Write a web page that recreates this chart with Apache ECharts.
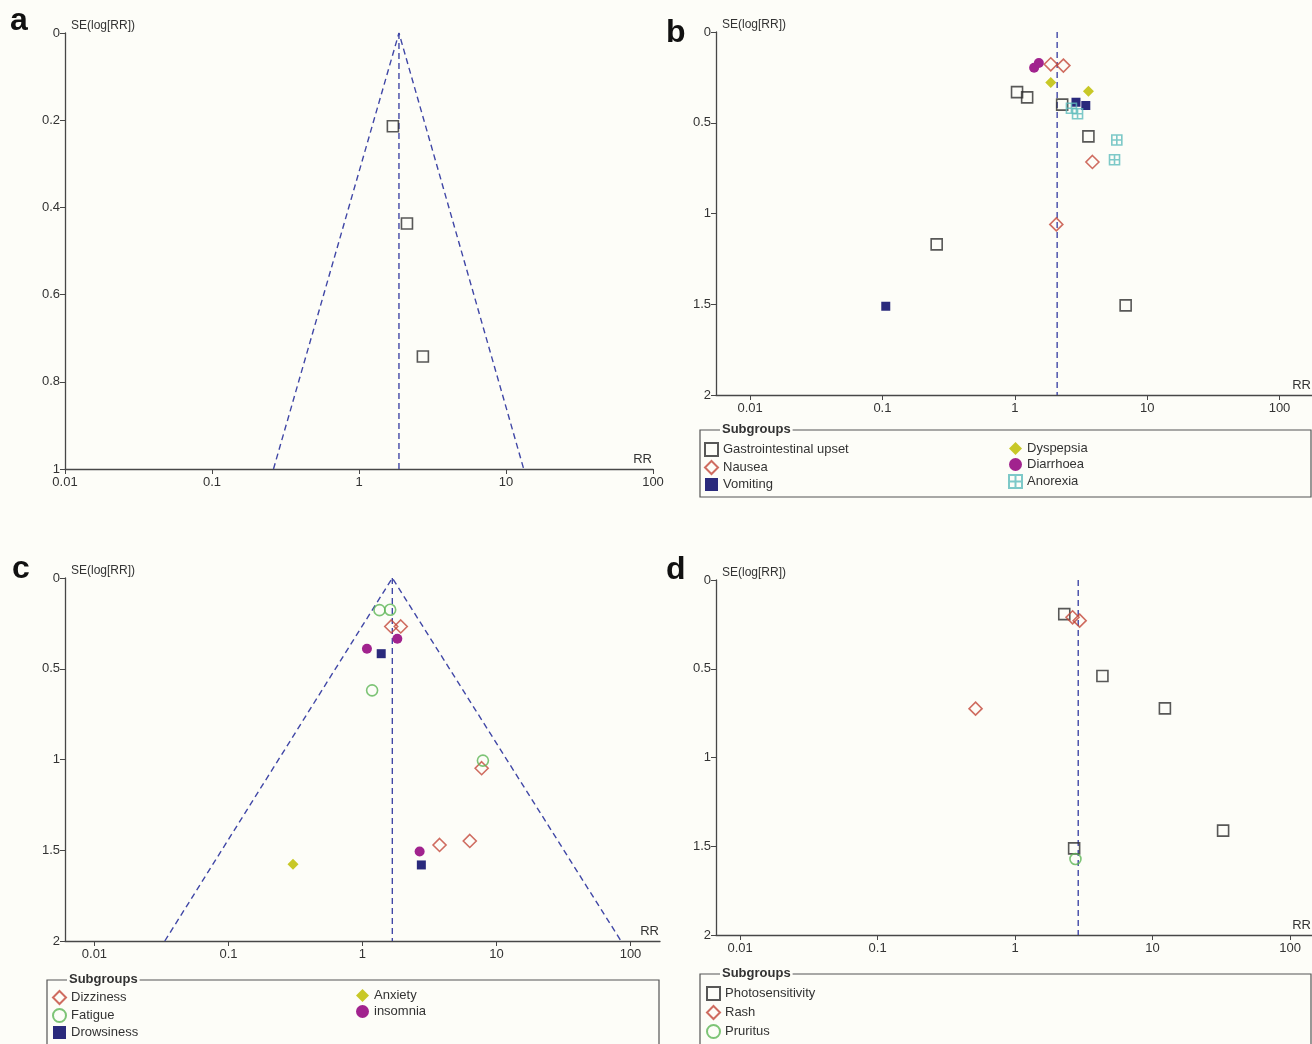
<!DOCTYPE html>
<html>
<head>
<meta charset="utf-8">
<script src="https://cdn.jsdelivr.net/npm/echarts@6/dist/echarts.min.js"></script>
<style>
  html, body { margin: 0; padding: 0; background: #fdfdf8; }
  #main { width: 1312px; height: 1044px; }
</style>
</head>
<body>
<div id="main"></div>
<script>
// panel a - one subgroup, funnel drawn
var aRR = [1.70, 2.12, 2.72];
var aSE = [0.214, 0.437, 0.742];
var aFunnelRR = [0.262, 1.87, 13.2];   // left foot, apex, right foot
var aFunnelSE = [1, 0, 1];
var aPooled = 1.87;

// panel b - gastrointestinal
var bGastroRR = [1.04, 1.24, 2.28, 3.60, 0.257, 6.88];
var bGastroSE = [0.331, 0.360, 0.400, 0.575, 1.170, 1.506];
var bNauseaRR = [1.87, 2.33, 3.86, 2.06];
var bNauseaSE = [0.178, 0.185, 0.716, 1.060];
var bVomitRR = [0.106, 2.90, 3.44];
var bVomitSE = [1.511, 0.387, 0.405];
var bDyspRR = [1.87, 3.60];
var bDyspSE = [0.278, 0.326];
var bDiarRR = [1.40, 1.52];
var bDiarSE = [0.197, 0.171];
var bAnorRR = [2.68, 2.98, 5.90, 5.67];
var bAnorSE = [0.420, 0.450, 0.595, 0.704];
var bPooled = 2.09;

// panel c - nervous system
var cDizzRR = [1.64, 1.93, 7.75, 3.76, 6.32];
var cDizzSE = [0.267, 0.267, 1.048, 1.471, 1.449];
var cFatRR = [1.34, 1.61, 1.18, 7.92];
var cFatSE = [0.177, 0.175, 0.619, 1.006];
var cDrowRR = [1.38, 2.75];
var cDrowSE = [0.417, 1.581];
var cAnxRR = [0.303];
var cAnxSE = [1.577];
var cInsRR = [1.82, 1.08, 2.67];
var cInsSE = [0.335, 0.390, 1.507];
var cFunnelRR = [0.0335, 1.67, 85];
var cFunnelSE = [2, 0, 2];
var cPooled = 1.67;

// panel d - skin
var dPhotoRR = [2.28, 4.32, 12.3, 32.6, 2.69];
var dPhotoSE = [0.192, 0.541, 0.723, 1.412, 1.512];
var dRashRR = [2.62, 2.95, 0.516];
var dRashSE = [0.210, 0.229, 0.725];
var dPrurRR = [2.75];
var dPrurSE = [1.572];
var dPooled = 2.88;

var panelLetters = ['a', 'b', 'c', 'd'];

function pts(rr, se) {
    var out = [];
    for (var i = 0; i < rr.length; i++) out.push([rr[i], se[i]]);
    return out;
}

var FONT = '"Liberation Sans", Arial, sans-serif';
var AXIS_COL = '#474747';
var DASH_COL = '#4047a6';
var BG = '#fdfdf8';

function xAx(idx, min, max, hideEnds) {
    return {
        type: 'log', logBase: 10, gridIndex: idx, min: min, max: max, position: 'bottom',
        name: 'RR', nameLocation: 'end', nameGap: 0,
        nameTextStyle: { color: '#333', fontSize: 13, fontFamily: FONT, align: 'right', verticalAlign: 'bottom', padding: [0, 1, 3, 0] },
        axisLine: { onZero: false, lineStyle: { color: AXIS_COL, width: 1.3 } },
        axisTick: { length: 5, lineStyle: { color: AXIS_COL } },
        axisLabel: {
            color: '#333', fontSize: 13, fontFamily: FONT, margin: 7,
            showMinLabel: !hideEnds, showMaxLabel: !hideEnds,
            formatter: function (v) { return String(+v.toPrecision(3)); }
        },
        splitLine: { show: false }
    };
}

function yAx(idx, max, step) {
    return {
        type: 'value', gridIndex: idx, inverse: true, min: 0, max: max, interval: step,
        name: 'SE(log[RR])', nameLocation: 'start', nameGap: 0,
        nameTextStyle: { color: '#333', fontSize: 12, fontFamily: FONT, align: 'left', verticalAlign: 'bottom', padding: [0, 0, 1, 6] },
        axisLine: { onZero: false, lineStyle: { color: AXIS_COL, width: 1.3 } },
        axisTick: { length: 5, lineStyle: { color: AXIS_COL } },
        axisLabel: { color: '#333', fontSize: 13, fontFamily: FONT, margin: 5 },
        splitLine: { show: false }
    };
}

function dashLine(idx, data) {
    return {
        type: 'line', xAxisIndex: idx, yAxisIndex: idx, data: data,
        symbol: 'none', silent: true, z: 1,
        lineStyle: { color: DASH_COL, width: 1.4, type: [6, 4] }
    };
}

function openMark(name, idx, data, symbol, size, col) {
    return {
        name: name, type: 'scatter', xAxisIndex: idx, yAxisIndex: idx,
        data: data, symbol: symbol, symbolSize: size,
        itemStyle: { color: 'rgba(0,0,0,0)', borderColor: col, borderWidth: 1.6 }
    };
}

function fillMark(name, idx, data, symbol, size, col) {
    return {
        name: name, type: 'scatter', xAxisIndex: idx, yAxisIndex: idx,
        data: data, symbol: symbol, symbolSize: size,
        itemStyle: { color: col, opacity: 1 }
    };
}

var CROSS_SQ = 'path://M0 0H10V10H0Z M5 0V10 M0 5H10';
var BLACK = '#2e2e2e', RED = '#c3473a', NAVY = '#2a2a7c', YEL = '#c8c827',
    PURP = '#a1238e', TEAL = '#5cbcbc', GREEN = '#5cb555';

var series = [
    // a
    dashLine(0, pts(aFunnelRR, aFunnelSE)),
    dashLine(0, pts([aPooled, aPooled], [0, 1])),
    openMark('Studies', 0, pts(aRR, aSE), 'rect', 11, BLACK),
    // b
    dashLine(1, pts([bPooled, bPooled], [0, 2])),
    openMark('Gastrointestinal upset', 1, pts(bGastroRR, bGastroSE), 'rect', 11, BLACK),
    openMark('Nausea', 1, pts(bNauseaRR, bNauseaSE), 'diamond', 13, RED),
    fillMark('Vomiting', 1, pts(bVomitRR, bVomitSE), 'rect', 9, NAVY),
    fillMark('Dyspepsia', 1, pts(bDyspRR, bDyspSE), 'diamond', 11, YEL),
    fillMark('Diarrhoea', 1, pts(bDiarRR, bDiarSE), 'circle', 10, PURP),
    openMark('Anorexia', 1, pts(bAnorRR, bAnorSE), CROSS_SQ, 10, TEAL),
    // c
    dashLine(2, pts(cFunnelRR, cFunnelSE)),
    dashLine(2, pts([cPooled, cPooled], [0, 2])),
    openMark('Dizziness', 2, pts(cDizzRR, cDizzSE), 'diamond', 13, RED),
    openMark('Fatigue', 2, pts(cFatRR, cFatSE), 'circle', 11, GREEN),
    fillMark('Drowsiness', 2, pts(cDrowRR, cDrowSE), 'rect', 9, NAVY),
    fillMark('Anxiety', 2, pts(cAnxRR, cAnxSE), 'diamond', 11, YEL),
    fillMark('insomnia', 2, pts(cInsRR, cInsSE), 'circle', 10, PURP),
    // d
    dashLine(3, pts([dPooled, dPooled], [0, 2])),
    openMark('Photosensitivity', 3, pts(dPhotoRR, dPhotoSE), 'rect', 11, BLACK),
    openMark('Rash', 3, pts(dRashRR, dRashSE), 'diamond', 13, RED),
    openMark('Pruritus', 3, pts(dPrurRR, dPrurSE), 'circle', 11, GREEN)
];

function leg(left, top, names, gap) {
    return {
        orient: 'vertical', left: left, top: top, data: names,
        itemWidth: 13, itemHeight: 13, itemGap: gap, selectedMode: false, padding: 0,
        textStyle: { color: '#333', fontSize: 13, fontFamily: FONT }
    };
}

function legBox(x, y, w, h) {
    return [
        { type: 'rect', silent: true, shape: { x: x, y: y, width: w, height: h },
          style: { fill: 'none', stroke: '#555', lineWidth: 1.2 } },
        { type: 'text', silent: true, left: x + 20, top: y - 7,
          style: { text: 'Subgroups', fill: '#333', font: 'bold 13px ' + FONT,
                   backgroundColor: BG, padding: [0, 2, 0, 2] } }
    ];
}

var myChart = echarts.init(document.getElementById('main'), null, { renderer: 'canvas' });
var option = {
    backgroundColor: BG,
    animation: false,
    title: [
        { text: panelLetters[0], left: 5, top: 0 },
        { text: panelLetters[1], left: 661, top: 12 },
        { text: panelLetters[2], left: 7, top: 548 },
        { text: panelLetters[3], left: 661, top: 549 }
    ].map(function (t) {
        t.textStyle = { fontSize: 32, fontWeight: 'bold', color: '#111', fontFamily: FONT };
        return t;
    }),
    grid: [
        { left: 65, top: 33, width: 588, height: 436 },
        { left: 716, top: 32, width: 596, height: 363 },
        { left: 65, top: 578, width: 595, height: 363 },
        { left: 716, top: 580, width: 596, height: 355 }
    ],
    xAxis: [
        xAx(0, 0.01, 100, false),
        xAx(1, 0.00553, 176, true),
        xAx(2, 0.00603, 166, true),
        xAx(3, 0.00668, 144.5, true)
    ],
    yAxis: [
        yAx(0, 1, 0.2),
        yAx(1, 2, 0.5),
        yAx(2, 2, 0.5),
        yAx(3, 2, 0.5)
    ],
    legend: [
        leg(704, 442, ['Gastrointestinal upset', 'Nausea', 'Vomiting'], 3),
        leg(1008, 442, ['Dyspepsia', 'Diarrhoea', 'Anorexia'], 3),
        leg(52, 990, ['Dizziness', 'Fatigue', 'Drowsiness'], 3),
        leg(356, 989, ['Anxiety', 'insomnia'], 3),
        leg(706, 986, ['Photosensitivity', 'Rash', 'Pruritus'], 4)
    ],
    graphic: [].concat(
        legBox(700, 430, 611, 67),
        legBox(47, 980, 612, 90),
        legBox(700, 974, 611, 90)
    ),
    series: series
};
myChart.setOption(option);
</script>
</body>
</html>
